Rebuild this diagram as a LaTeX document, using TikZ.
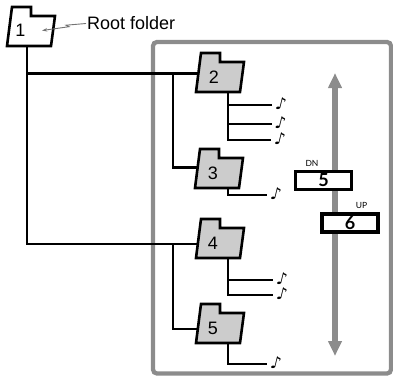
\documentclass[tikz,border=0pt]{standalone}
\usepackage{fontspec}
\setmainfont{Liberation Sans}
\newfontfamily\gillfont{Lato}
\newfontfamily\notefont[FakeSlant=0.25]{DejaVu Sans}
\usepackage{tikz}
\usetikzlibrary{arrows.meta}
\usetikzlibrary{backgrounds}
\usetikzlibrary{shadows}
\definecolor{framegray}{RGB}{140,140,140}
\definecolor{foldergray}{RGB}{204,204,204}
\tikzstyle{folder_outline}=[draw=black, line width=2.6pt]
\tikzstyle{folder_num}=[inner sep=0pt, minimum width=31pt, minimum height=29pt, font=\fontsize{18}{18}\selectfont]
\tikzstyle{tree}=[draw=black, line width=2.8pt]
\tikzstyle{branch}=[draw=black, line width=1.1pt]
\tikzstyle{note}=[inner xsep=2.5pt, inner ysep=0pt, anchor=west, font=\notefont\fontsize{16}{16}\selectfont]
\tikzstyle{pointer}=[draw=black!55, line width=0.9pt, -{Stealth[length=5pt,width=3.5pt]}]
\tikzstyle{frame}=[draw=framegray, line width=4.3pt, rounded corners=4pt]
\tikzstyle{scale_arrow}=[draw=framegray, line width=5.5pt, {Triangle[width=13pt,length=15pt]}-{Triangle[width=13pt,length=15pt]}]
\tikzstyle{counter}=[draw=black, fill=white, line width=3.3pt, minimum width=56pt, minimum height=18pt, inner sep=0pt, font=\gillfont\bfseries\fontsize{18}{18}\selectfont, drop shadow={shadow xshift=1.5pt, shadow yshift=-1.5pt, fill=black!45}]
\tikzstyle{tag}=[inner sep=0pt, font=\gillfont\fontsize{8.5}{8.5}\selectfont]

\begin{document}
\begin{tikzpicture}[x=1pt, y=-1pt]
\useasboundingbox (0,0) rectangle (393,375);
\foreach \bx/\by/\col in {7/46/white, 196/92/foldergray, 195/188/foldergray, 196/258/foldergray, 196/343/foldergray}
  \filldraw[folder_outline, fill=\col] (\bx,\by) -- ++(5,-39) -- ++(19,0) -- ++(0,9) -- ++(24,0) -- ++(-4,30) -- cycle;
\node[folder_num] (f1) at (20.5,30.5){1};
\node[folder_num] (f2) at (214,77.5){2};
\node[folder_num] (f3) at (213,173){3};
\node[folder_num] (f4) at (213,243.5){4};
\node[folder_num] (f5) at (213,328.5){5};
\node[anchor=west, inner sep=1pt, font=\fontsize{18}{18}\selectfont] (rootlab) at (86,23.5){Root folder};
\draw[pointer] (rootlab.west) -- ++(-20,1.7) -- ++(3,1.5) -- ([xshift=6pt]f1.east);
\node[note] (n2a) at (272,104){♪};
\node[note] (n2b) at (271.5,123){♪};
\node[note] (n2c) at (271,139){♪};
\node[note] (n3a) at (267,194){♪};
\node[note] (n4a) at (273,279){♪};
\node[note] (n4b) at (273,294){♪};
\node[note] (n5a) at (267,363){♪};
\coordinate (top) at (335,73);
\coordinate (bot) at (335,356);
\draw[scale_arrow] (top) -- (bot);
\node[counter] (dn) at (323.5,180.5){5};
\node[counter] (up) at (350,223){6};
\node[tag] (dnlab) at (312,163.5){DN};
\node[tag] (uplab) at (361.5,205){UP};
\begin{scope}[on background layer]
\draw[frame] (153,42) rectangle (391,373.5);
\coordinate (r) at ([xshift=6.5pt]f1.south);
\coordinate (j2) at (173,73.5);
\coordinate (j4) at (173,244);
\draw[tree] (r) |- ([yshift=4pt]f2.west);
\draw[tree] (r) |- ([yshift=-0.5pt]f4.west);
\draw[tree] (j2) |- ([yshift=5.5pt]f3.west);
\draw[tree] (j4) |- ([yshift=-0.5pt]f5.west);
\draw[branch] ([xshift=14pt]f2.south) |- ([yshift=-1pt]n2a.west);
\draw[branch] ([xshift=14pt]f2.south) |- ([yshift=-1pt]n2b.west);
\draw[branch] ([xshift=14pt]f2.south) |- ([yshift=-1pt]n2c.west);
\draw[branch] ([xshift=15pt]f3.south) |- ([yshift=-1pt]n3a.west);
\draw[branch] ([xshift=15pt]f4.south) |- ([yshift=-1pt]n4a.west);
\draw[branch] ([xshift=15pt]f4.south) |- ([yshift=-1pt]n4b.west);
\draw[branch] ([xshift=15pt]f5.south) |- ([yshift=-1pt]n5a.west);
\end{scope}
\end{tikzpicture}
\end{document}
